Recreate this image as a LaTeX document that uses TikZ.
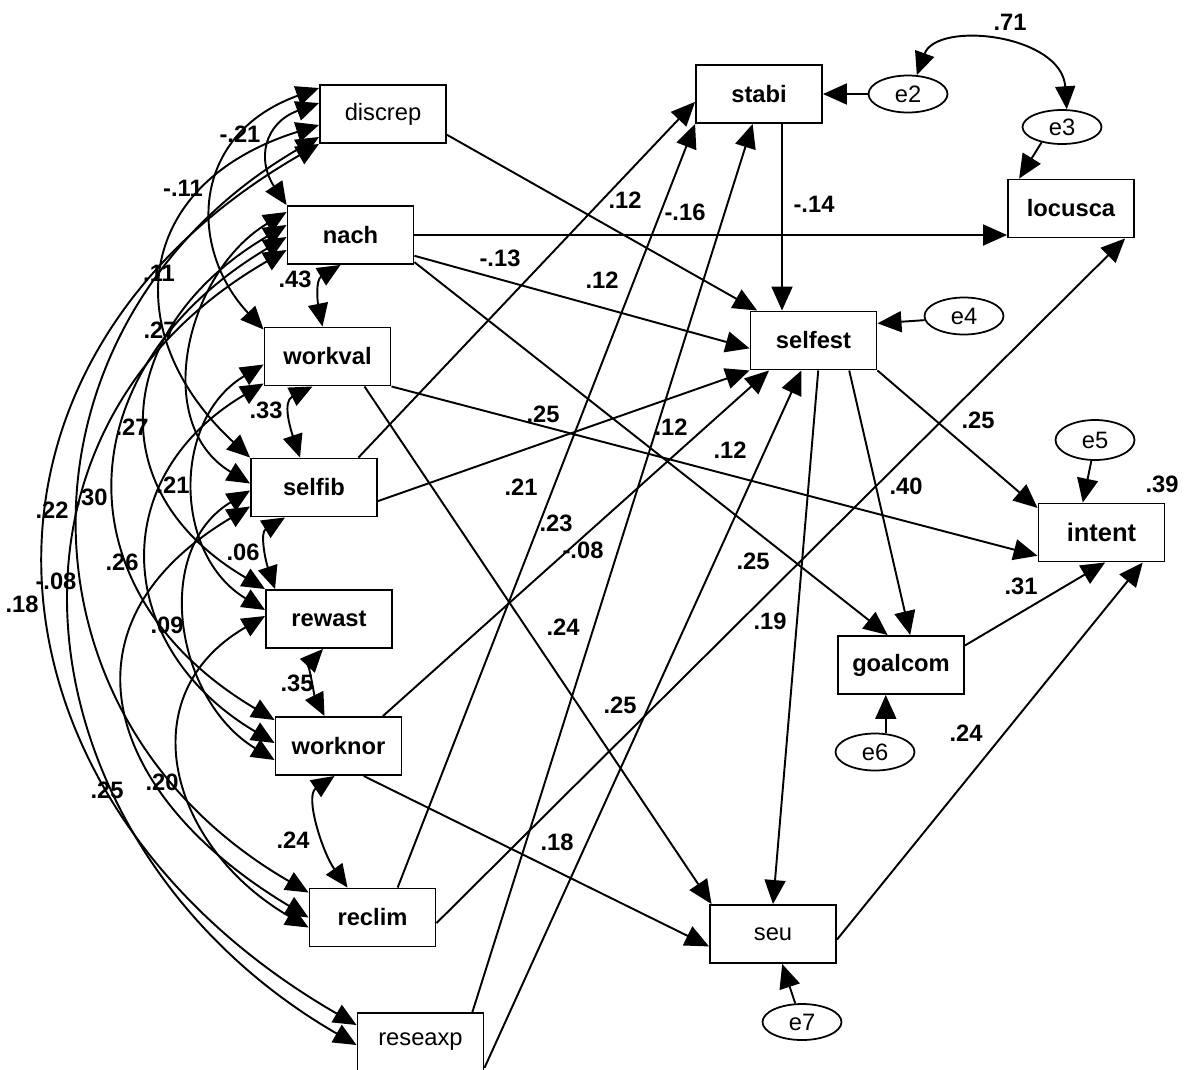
\documentclass[tikz,border=0pt]{standalone}
\usepackage{fontspec}
\setmainfont{Liberation Sans}
\usetikzlibrary{arrows.meta,shapes.geometric,calc}
\begin{document}
\begin{tikzpicture}[x=0.02cm,y=-0.02cm,
  txt/.style={font=\fontsize{13.5}{16}\selectfont},
  box/.style={draw, line width=1.1pt, minimum width=2.52cm, minimum height=1.16cm,
    inner sep=0pt, font=\fontsize{13.5}{16}\selectfont\bfseries},
  boxr/.style={box, font=\fontsize{13.5}{16}\selectfont},
  err/.style={draw, ellipse, line width=1pt, minimum width=1.58cm, minimum height=0.74cm,
    inner sep=0pt, font=\fontsize{13.5}{16}\selectfont},
  reg/.style={line width=1.1pt, -{Triangle[length=0.48cm,width=0.42cm]}},
  cov/.style={line width=1.1pt,
    {Triangle[length=0.46cm,width=0.40cm]}-{Triangle[length=0.46cm,width=0.40cm]}},
  lab/.style={inner sep=0pt, font=\fontsize{13.5}{16}\selectfont\bfseries},
]
\useasboundingbox (0,0) rectangle (1189,1069);
\fill[white] (0,0) rectangle (1189,1069);

% ---------- observed variables ----------
\node[boxr] (discrep) at (383,114)    {discrep};
\node[box]  (nach)    at (350.5,235)  {nach};
\node[box]  (workval) at (327.5,356.5){workval};
\node[box]  (selfib)  at (314,487.5)  {selfib};
\node[box]  (rewast)  at (329,619)    {rewast};
\node[box]  (worknor) at (338.5,746)  {worknor};
\node[box]  (reclim)  at (372.5,917.5){reclim};
\node[boxr] (reseaxp) at (420.5,1042) {reseaxp};
\node[box]  (stabi)   at (759,94)     {stabi};
\node[box]  (locusca) at (1071,208.5) {locusca};
\node[box]  (selfest) at (813.5,340.5){selfest};
\node[box, font=\fontsize{14.5}{16}\selectfont\bfseries] (intent) at (1101.5,532.5) {intent};
\node[box]  (goalcom) at (901,665)    {goalcom};
\node[boxr] (seu)     at (773,934)    {seu};

% ---------- residuals ----------
\node[err] (e2) at (908,94)   {e2};
\node[err, minimum height=0.68cm] (e3) at (1062,127) {e3};
\node[err] (e4) at (964,316)  {e4};
\node[err, minimum height=0.8cm] (e5) at (1095,440) {e5};
\node[err] (e6) at (875,752)  {e6};
\node[err, minimum height=0.72cm] (e7) at (802,1022) {e7};

% ---------- regression paths ----------
\draw[reg] (discrep.-18) -- (selfest.152);
\draw[reg] (nach.east) -- (nach.east -| locusca.west);
\draw[reg] (nach.-18) -- (selfest.187);
\draw[reg] (nach.-23) -- (goalcom.114);
\draw[reg] (selfib.34) -- (stabi.187);
\draw[reg] (reclim.50) -- (stabi.south west);
\draw[reg] (reseaxp.30) -- (stabi.258);
\coordinate (sb) at ($(stabi.south)+(23,0)$);
\draw[reg] (sb) -- (sb |- selfest.north);
\draw[reg] (workval.south east) -- (intent.200);
\draw[reg] (workval.-39) -- (seu.154);
\draw[reg] (selfib.-12) -- (selfest.south west);
\draw[reg] (worknor.34) -- (selfest.214);
\draw[reg] (reseaxp.-22) -- (selfest.248);
\draw[reg] (reclim.-5) -- (locusca.-29);
\draw[reg] (worknor.-50) -- (seu.191);
\draw[reg] (selfest.-81) -- (seu.north);
\draw[reg] (selfest.-40) -- (goalcom.73);
\draw[reg] (selfest.south east) -- (intent.159);
\draw[reg] (goalcom.17) -- (intent.-83);
\draw[reg] (seu.-5) -- (intent.-36);

% residual paths
\draw[reg] (e2.west) -- (e2.west -| stabi.east);
\draw[reg] (e3.217) -- (locusca.150);
\draw[reg] (e4.186) -- (selfest.15);
\draw[reg] (e5.-100) -- (intent.122);
\draw[reg] (e6.60) -- (e6.60 |- goalcom.south);
\draw[reg] (e7.110) -- (seu.-73);

% residual covariance
\draw[cov] (e2.65) .. controls +(20,-55) and +(-5,-75) .. (e3.75);

% ---------- covariances among the exogenous variables ----------
% neighbouring pairs
\draw[cov] ($(nach.south)+(-10,0)$) .. controls +(-25,15) and +(-5,-25) .. ($(workval.north)+(-5,0)$);
\draw[cov] ($(workval.south)+(-15,0)$) .. controls +(-30,15) and +(-10,-30) .. ($(selfib.north)+(-14,0)$);
\draw[cov] ($(selfib.south)+(-29,0)$) .. controls +(-25,15) and +(-10,-30) .. ($(rewast.north)+(-54,0)$);
\draw[cov] ($(rewast.south)+(-6,0)$) .. controls +(-14,15) and +(-10,-20) .. ($(worknor.north)+(-14,0)$);
\draw[cov] ($(worknor.south)+(-4,0)$) .. controls +(-30,20) and +(-25,-35) .. ($(reclim.north)+(-25,0)$);
% arcs on the left side
\draw[cov] ($(discrep.west)+(0,-11)$) .. controls +(-55,20) and +(-30,-45) .. (nach.north west);
\draw[cov] ($(discrep.west)+(0,-26)$) .. controls +(-130,47) and +(-75,-80) .. ($(workval.west)+(0,-27)$);
\draw[cov] ($(discrep.west)+(0,11)$) .. controls +(-190,60) and +(-130,-120) .. (selfib.north west);
\draw[cov] ($(discrep.west)+(0,23)$) .. controls +(-311,180) and +(-311,-180) .. ($(reclim.west)+(0,-25)$);
\draw[cov] (discrep.south west) .. controls +(-388,224) and +(-388,-224) .. ($(reseaxp.west)+(0,-17)$);
\draw[cov] ($(nach.west)+(0,-23)$) .. controls +(-100,60) and +(-100,-60) .. ($(selfib.west)+(0,-4)$);
\draw[cov] ($(nach.west)+(0,-10)$) .. controls +(-170,100) and +(-170,-100) .. (rewast.north west);
\draw[cov] ($(nach.west)+(0,2)$) .. controls +(-219,130) and +(-219,-130) .. ($(worknor.west)+(0,-26)$);
\draw[cov] ($(nach.west)+(0,15)$) .. controls +(-329,190) and +(-329,-190) .. ($(reseaxp.west)+(0,3)$);
\draw[cov] ($(workval.west)+(0,8)$) .. controls +(-92,55) and +(-92,-55) .. ($(rewast.west)+(0,-9)$);
\draw[cov] ($(workval.west)+(0,27)$) .. controls +(-160,95) and +(-160,-95) .. ($(worknor.west)+(0,-3)$);
\draw[cov] ($(selfib.west)+(0,3)$) .. controls +(-99,60) and +(-99,-60) .. ($(worknor.west)+(0,14)$);
\draw[cov] ($(selfib.west)+(0,19)$) .. controls +(-201,120) and +(-201,-120) .. (reclim.west);
\draw[cov] ($(rewast.west)+(0,-3)$) .. controls +(-138,80) and +(-138,-80) .. ($(reclim.west)+(0,10)$);

% ---------- coefficients ----------
\node[lab] (c01) at (240,134) {-.21};
\node[lab] (c02) at (183,188) {-.11};
\node[lab] (c03) at (159,273) {.11};
\node[lab] (c04) at (160,330) {.27};
\node[lab] (c05) at (295,279) {.43};
\node[lab] (c06) at (266,410) {.33};
\node[lab] (c07) at (132,427) {.27};
\node[lab] (c08) at (173,485) {.21};
\node[lab] (c09) at (91,497)  {.30};
\node[lab] (c10) at (52,510)  {.22};
\node[lab] (c11) at (243,552) {.06};
\node[lab] (c12) at (122,562) {.26};
\node[lab] (c13) at (56,581)  {-.08};
\node[lab] (c14) at (22,604)  {.18};
\node[lab] (c15) at (167,625) {.09};
\node[lab] (c16) at (297,683) {.35};
\node[lab] (c17) at (162,782) {.20};
\node[lab] (c18) at (107,790) {.25};
\node[lab] (c19) at (293,840) {.24};
\node[lab] (c20) at (625,200) {.12};
\node[lab] (c21) at (685,212) {-.16};
\node[lab] (c22) at (814,204) {-.14};
\node[lab] (c23) at (500,258) {-.13};
\node[lab] (c24) at (602,280) {.12};
\node[lab] (c25) at (543,414) {.25};
\node[lab] (c26) at (978,420) {.25};
\node[lab] (c27) at (671,427) {.12};
\node[lab] (c28) at (730,450) {.12};
\node[lab] (c29) at (521,487) {.21};
\node[lab] (c30) at (906,486) {.40};
\node[lab] (c31) at (1162,484){.39};
\node[lab] (c32) at (556,523) {.23};
\node[lab] (c33) at (583,550) {-.08};
\node[lab] (c34) at (753,561) {.25};
\node[lab] (c35) at (1021,586){.31};
\node[lab] (c36) at (770,621) {.19};
\node[lab] (c37) at (563,627) {.24};
\node[lab] (c38) at (620,705) {.25};
\node[lab] (c39) at (966,733) {.24};
\node[lab] (c40) at (557,842) {.18};
\node[lab] (c41) at (1010,22) {.71};
\end{tikzpicture}
\end{document}
